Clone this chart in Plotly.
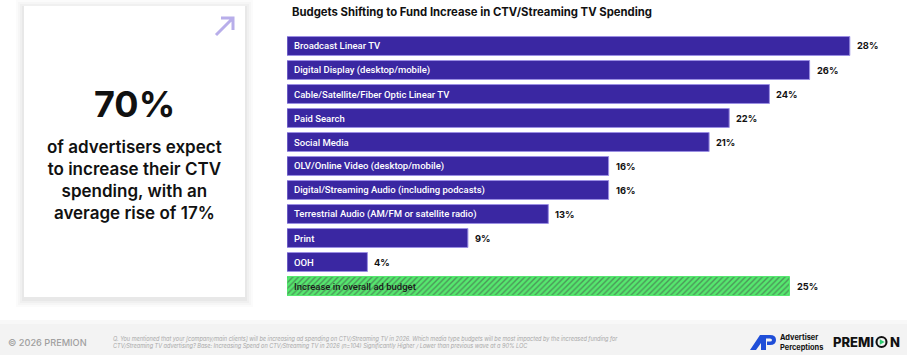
import plotly.graph_objects as go

categories = [
    "Broadcast Linear TV",
    "Digital Display (desktop/mobile)",
    "Cable/Satellite/Fiber Optic Linear TV",
    "Paid Search",
    "Social Media",
    "OLV/Online Video (desktop/mobile)",
    "Digital/Streaming Audio (including podcasts)",
    "Terrestrial Audio (AM/FM or satellite radio)",
    "Print",
    "OOH",
    "Increase in overall ad budget",
]
values = [28, 26, 24, 22, 21, 16, 16, 13, 9, 4, 25]
value_labels = [f"{v}%" for v in values]

title_text = "Budgets Shifting to Fund Increase in CTV/Streaming TV Spending"
stat_big = "70%"
stat_text = "of advertisers expect<br>to increase their CTV<br>spending, with an<br>average rise of 17%"
footnote = ("Q. You mentioned that your [company/main clients] will be increasing ad spending on CTV/Streaming TV in 2026. "
            "Which media type budgets will be most impacted by the increased funding for<br>"
            "CTV/Streaming TV advertising? Base: Increasing Spend on CTV/Streaming TV in 2026 (n=104) "
            "Significantly Higher / Lower than previous wave at a 90% LOC")

W, H = 907, 355
FONT = "Inter"
LFONT = "Roboto"

purple = "#3a27a2"
green_bg = "#55e86e"
green_fg = "#b4f8bd"

colors = [purple] * 10 + [green_bg]
fig = go.Figure()
fig.add_trace(go.Bar(
    x=values, y=categories, orientation="h",
    marker=dict(
        color=colors,
        line=dict(color=["#9b8fe3"] * 10 + ["#55e86e"], width=1),
        pattern=dict(shape=[""] * 10 + ["/"], fgcolor=green_fg, bgcolor=green_bg,
                     size=4, solidity=0.35, fillmode="overlay"),
    ),
    hoverinfo="skip",
))

annotations = []
for i, (c, v, t) in enumerate(zip(categories, values, value_labels)):
    annotations.append(dict(
        x=0, y=c, xref="x", yref="y", text=c, showarrow=False,
        xanchor="left", xshift=5,
        font=dict(family=LFONT, size=9.5, weight=500,
                  color="#1b1b1b" if i == len(categories) - 1 else "#ffffff"),
    ))
    annotations.append(dict(
        x=v, y=c, xref="x", yref="y", text=t, showarrow=False,
        xanchor="left", xshift=5,
        font=dict(family=FONT, size=9.3, weight=700, color="#111111"),
    ))

def px(x):
    return x / W

def py(y):
    return 1 - y / H

# Title
annotations.append(dict(x=px(290), y=py(12), xref="paper", yref="paper", text=title_text,
                        showarrow=False, xanchor="left", yanchor="middle",
                        font=dict(family=FONT, size=11.3, weight=700, color="#111111")))
# Card text
annotations.append(dict(x=px(134), y=py(104), xref="paper", yref="paper", text=stat_big,
                        showarrow=False, xanchor="center", yanchor="middle",
                        font=dict(family=FONT, size=36, weight=700, color="#111111")))
annotations.append(dict(x=px(134), y=py(180), xref="paper", yref="paper", text=stat_text,
                        showarrow=False, xanchor="center", yanchor="middle",
                        font=dict(family=FONT, size=17, weight=600, color="#111111")))
# Footer
annotations.append(dict(x=px(6), y=py(342), xref="paper", yref="paper", text="© 2026 PREMION",
                        showarrow=False, xanchor="left", yanchor="middle",
                        font=dict(family=FONT, size=9.2, weight=500, color="#a0a0a0")))
annotations.append(dict(x=px(111), y=py(342.5), xref="paper", yref="paper", text=footnote,
                        showarrow=False, xanchor="left", yanchor="middle", align="left",
                        font=dict(family=FONT, size=5.55, style="italic", color="#a8a8a8")))
annotations.append(dict(x=px(778), y=py(342), xref="paper", yref="paper",
                        text="Advertiser<br>Perceptions",
                        showarrow=False, xanchor="left", yanchor="middle", align="left",
                        font=dict(family=FONT, size=7.4, weight=700, color="#111111")))
annotations.append(dict(x=px(876), y=py(342), xref="paper", yref="paper", text="PREMI",
                        showarrow=False, xanchor="right", yanchor="middle",
                        font=dict(family=FONT, size=13, weight=800, color="#111111")))
annotations.append(dict(x=px(887.5), y=py(342), xref="paper", yref="paper", text="N",
                        showarrow=False, xanchor="left", yanchor="middle",
                        font=dict(family=FONT, size=13, weight=800, color="#111111")))

shapes = []
# card shadow
for d, op in [(8, 0.015), (6, 0.02), (4, 0.025), (2, 0.03)]:
    shapes.append(dict(type="rect", xref="paper", yref="paper", layer="below",
                       x0=px(24 - d), x1=px(245 + d), y0=py(297 + d + 2), y1=py(6 - d + 2),
                       fillcolor=f"rgba(0,0,0,{op})", line=dict(width=0)))
shapes.append(dict(type="rect", xref="paper", yref="paper", layer="below",
                   x0=px(24), x1=px(245), y0=py(297), y1=py(6),
                   fillcolor="#ffffff", line=dict(width=0)))
# arrow icon
arrow_col = "#b8aeea"
shapes.append(dict(type="path", xref="paper", yref="paper",
                   path=f"M {px(216)},{py(35)} L {px(233)},{py(18)} M {px(221)},{py(18)} L {px(233)},{py(18)} L {px(233)},{py(30)}",
                   line=dict(color=arrow_col, width=3)))
# footer band
shapes.append(dict(type="rect", xref="paper", yref="paper", layer="below",
                   x0=0, x1=1, y0=0, y1=py(322), fillcolor="#f3f3f3", line=dict(width=0)))
shapes.append(dict(type="rect", xref="paper", yref="paper", layer="below",
                   x0=0, x1=1, y0=py(324), y1=py(320), fillcolor="#f8f8f8", line=dict(width=0)))
# AP logo
blue = "#1f4ed8"
shapes.append(dict(type="path", xref="paper", yref="paper",
                   path=(f"M {px(750)},{py(350)} L {px(760)},{py(335)} L {px(766)},{py(335)} "
                         f"L {px(766)},{py(350)} L {px(761)},{py(350)} L {px(761)},{py(343)} "
                         f"L {px(756)},{py(350)} Z"),
                   fillcolor=blue, line=dict(width=0)))
shapes.append(dict(type="path", xref="paper", yref="paper",
                   path=(f"M {px(766)},{py(335)} L {px(770)},{py(335)} "
                         f"Q {px(776)},{py(335)} {px(776)},{py(340)} "
                         f"Q {px(776)},{py(345)} {px(770)},{py(345)} L {px(767)},{py(345)} "
                         f"L {px(767)},{py(341.5)} L {px(770)},{py(341.5)} "
                         f"Q {px(772)},{py(341.5)} {px(772)},{py(340)} "
                         f"Q {px(772)},{py(338.5)} {px(770)},{py(338.5)} L {px(766)},{py(338.5)} Z"),
                   fillcolor=blue, line=dict(width=0)))
# PREMION "O"
shapes.append(dict(type="circle", xref="paper", yref="paper",
                   x0=px(876.5), x1=px(886.5), y0=py(347), y1=py(337),
                   line=dict(color="#111111", width=2.1), fillcolor="rgba(0,0,0,0)"))
shapes.append(dict(type="path", xref="paper", yref="paper",
                   path=f"M {px(879.8)},{py(339.2)} L {px(884.6)},{py(342)} L {px(879.8)},{py(344.8)} Z",
                   fillcolor="#2ecc71", line=dict(width=0)))

fig.update_layout(
    width=W, height=H,
    margin=dict(l=0, r=0, t=0, b=0, pad=0, autoexpand=False),
    paper_bgcolor="#ffffff", plot_bgcolor="rgba(0,0,0,0)",
    bargap=0.21,
    showlegend=False,
    xaxis=dict(range=[0, 30], visible=False, fixedrange=True, domain=[287 / W, 890 / W]),
    yaxis=dict(autorange="reversed", visible=False, fixedrange=True,
               domain=[1 - 298 / H, 1 - 34 / H]),
    annotations=annotations,
    shapes=shapes,
)

fig.write_html(
    "out.html",
    config={"displayModeBar": False},
    post_script="document.body.style.margin='0';document.body.style.overflow='hidden';",
)
